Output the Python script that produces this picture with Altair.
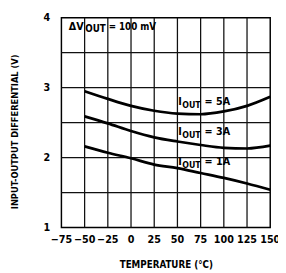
import altair as alt
import pandas as pd

# ---- data ----
temps = [-50, -25, 0, 25, 50, 75, 100, 125, 150]
v_5a = [2.95, 2.84, 2.74, 2.67, 2.63, 2.62, 2.66, 2.74, 2.87]
v_3a = [2.59, 2.49, 2.38, 2.29, 2.23, 2.18, 2.14, 2.13, 2.17]
v_1a = [2.16, 2.07, 1.99, 1.90, 1.85, 1.78, 1.71, 1.63, 1.54]
series_names = ["5A", "3A", "1A"]

x_ticks = [-75, -50, -25, 0, 25, 50, 75, 100, 125, 150]
x_tick_labels = ["\u221275", "\u221250", "\u221225", "0", "25", "50", "75", "100", "125", "150"]
y_ticks = [1, 2, 3, 4]
y_grid = [1.5, 2, 2.5, 3, 3.5]

label_x = [51, 51, 51]
label_y = [2.79, 2.36, 1.94]

note_x = [-67]
note_y = [3.86]

rows = []
for name, vals in zip(series_names, [v_5a, v_3a, v_1a]):
    for t, v in zip(temps, vals):
        rows.append({"series": name, "temp": t, "v": v})
df = pd.DataFrame(rows)

lab = pd.DataFrame({"x": label_x, "y": label_y,
                    "eq": ["=  " + s for s in series_names]})
note = pd.DataFrame({"x": note_x, "y": note_y})
xgrid_df = pd.DataFrame({"temp": x_ticks[1:-1]})
ygrid_df = pd.DataFrame({"v": y_grid})
xlab_df = pd.DataFrame({"temp": x_ticks, "lbl": x_tick_labels})

FONT = "DejaVu Sans Condensed, Liberation Sans Narrow, sans-serif"

xscale = alt.Scale(domain=[-75, 150], nice=False, zero=False)
yscale = alt.Scale(domain=[1, 4], nice=False, zero=False)

xgrid = alt.Chart(xgrid_df).mark_rule(color="#111", strokeWidth=1.3).encode(
    x=alt.X("temp:Q", scale=xscale))
ygrid = alt.Chart(ygrid_df).mark_rule(color="#111", strokeWidth=1.3).encode(
    y=alt.Y("v:Q", scale=yscale))

xlabels = alt.Chart(xlab_df).mark_text(
    baseline="middle", align="center", font=FONT, fontWeight="bold",
    fontSize=11, color="black"
).encode(x=alt.X("temp:Q", scale=xscale), y=alt.value(229), text="lbl:N")

lines = alt.Chart(df).mark_line(
    color="black", strokeWidth=2.8, interpolate="monotone"
).encode(
    x=alt.X("temp:Q", scale=xscale, axis=alt.Axis(
        values=x_ticks, title="TEMPERATURE (°C)", tickSize=0, labels=False,
        titleFontSize=10, titleY=33, titleBaseline="top",
        domain=False, grid=False)),
    y=alt.Y("v:Q", scale=yscale, axis=alt.Axis(
        values=y_ticks, format="d", title="INPUT-OUTPUT DIFFERENTIAL (V)",
        tickSize=0, labelPadding=12, labelFontSize=11, titleFontSize=9.5,
        titleX=-48, titleY=117, titleAngle=-90, titleBaseline="middle",
        domain=False, grid=False)),
    detail="series:N",
)

def txt(data, text, dx=0, dy=0, size=10):
    return alt.Chart(data).mark_text(
        align="left", baseline="middle", dx=dx, dy=dy, font=FONT,
        fontWeight="bold", fontSize=size, color="black"
    ).encode(x=alt.X("x:Q", scale=xscale), y=alt.Y("y:Q", scale=yscale),
             text=text)

t_i = txt(lab, alt.value("I"), 0, 0, 11)
t_out = txt(lab, alt.value("OUT"), 4, 3, 9)
t_eq = txt(lab, "eq:N", 27, 0, 11)

n_dv = txt(note, alt.value("ΔV"), 0, 0, 11)
n_out = txt(note, alt.value("OUT"), 17, 2, 10)
n_eq = txt(note, alt.value("= 100 mV"), 41, 0, 10)

chart = alt.layer(xgrid, ygrid, lines, xlabels, t_i, t_out, t_eq,
                  n_dv, n_out, n_eq).properties(
    width=215, height=216,
    autosize=alt.AutoSizeParams(type="none"),
    padding={"left": 55, "top": 6, "right": 8, "bottom": 50},
).configure_axis(
    labelFont=FONT, titleFont=FONT, labelFontWeight="bold",
    titleFontWeight="bold", labelColor="black", titleColor="black",
).configure_view(stroke="black", strokeWidth=1.5, clip=False)

chart.save("out.html", embed_options={"renderer": "svg", "actions": False})
